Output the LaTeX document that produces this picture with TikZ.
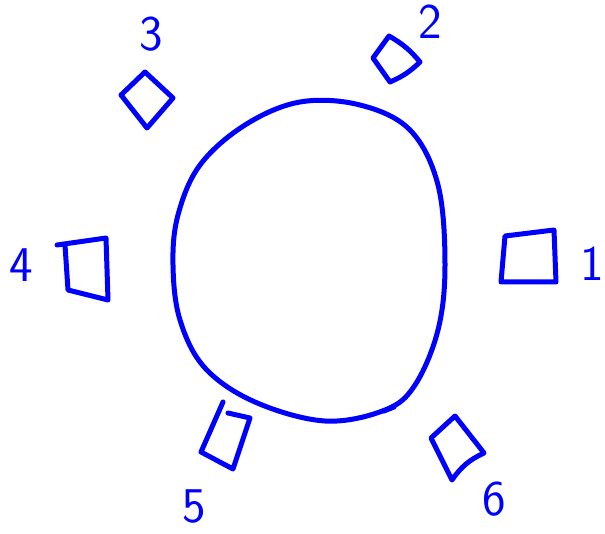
\documentclass[tikz,border=0pt]{standalone}
\begin{document}
\begin{tikzpicture}[x=1pt,y=-1pt,
  pen/.style={draw={rgb,255:red,0;green,0;blue,255},line width=5pt,line cap=round,line join=round},
  lbl/.style={text={rgb,255:red,0;green,0;blue,255},font=\sffamily\fontsize{50}{50}\selectfont,inner sep=0pt}]
\useasboundingbox (0,0) rectangle (605,534);
% big ring
\draw[pen] plot[smooth cycle,tension=0.6] coordinates {
  (300,102) (245,125) (200,165) (178,215) (173,265) (180,320) (205,368)
  (255,402) (325,421) (385,410) (415,385) (438,330) (445,265) (438,185)
  (410,130) (360,105)};
\draw[pen] (384,411) -- (394,407);
% squares
\draw[pen] (505,236) -- (554,230) -- (556,282) -- (501,282) -- cycle;
\draw[pen] (57,245) -- (106,238) -- (108,300) -- (68,290) -- (65,245);
\draw[pen] (145,72) -- (121,95) -- (147,128) -- (173,98) -- cycle;
\draw[pen] (373,58) -- (389,36) to[bend left=10] (420,62) to[bend left=10] (390,82) -- cycle;
\draw[pen] (228,413) -- (250,418) -- (233,469) -- (201,452) -- (223,402);
\draw[pen] (455,416) -- (431,438) -- (452,480) to[bend left=15] (484,453) -- cycle;
% labels
\node[lbl] (l1) at (592,264) {1};
\node[lbl] (l2) at (430,22) {2};
\node[lbl] (l3) at (151,34) {3};
\node[lbl] (l4) at (21,265) {4};
\node[lbl] (l5) at (194,506) {5};
\node[lbl] (l6) at (494,499) {6};
\end{tikzpicture}
\end{document}
